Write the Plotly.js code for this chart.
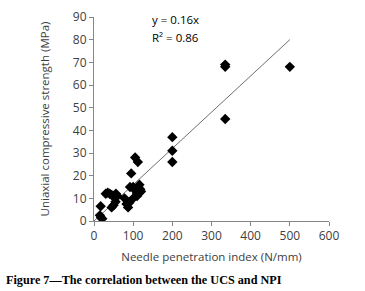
<!DOCTYPE html>
<html>
<head>
<meta charset="utf-8">
<script src="https://cdn.plot.ly/plotly-3.0.1.min.js"></script>
<style>
html,body{margin:0;padding:0;background:#fff;}
#chart{width:365px;height:291px;}
</style>
</head>
<body>
<div id="chart"></div>
<script>
// Needle penetration index (N/mm)
var npi = [15, 18, 21, 17,
           30, 35, 40, 45, 50, 56, 60,
           45, 50, 55,
           78, 83, 87, 90,
           92, 95, 100, 104, 108, 110, 113, 116, 118, 120, 105, 112, 100, 110,
           200, 200, 200, 335, 335, 335, 500];
// Uniaxial compressive strength (MPa)
var ucs = [2.5, 1.5, 1, 6.5,
           12, 12.5, 12, 11.5, 11, 12, 11,
           6, 7, 8.5,
           10, 7.5, 6, 8,
           15, 21, 15, 14, 13, 12, 15, 16, 14, 13, 28, 26, 10, 11,
           37, 31, 26, 68, 69, 45, 68];
var trendSlope = 0.16;
var trendX = [0, 500];
var trendY = trendX.map(function(v){return trendSlope * v;});
var xTicks = [0, 100, 200, 300, 400, 500, 600];
var yTicks = [0, 10, 20, 30, 40, 50, 60, 70, 80, 90];

var tickFont = {family: 'Open Sans, Liberation Sans, sans-serif', size: 12, color: '#404040'};
var titleFont = {family: 'Open Sans, Liberation Sans, sans-serif', size: 11.5, color: '#404040'};

var data = [
  {x: trendX, y: trendY, mode: 'lines', type: 'scatter',
   line: {color: '#6e6e6e', width: 1}, hoverinfo: 'skip'},
  {x: npi, y: ucs, mode: 'markers', type: 'scatter',
   marker: {symbol: 'diamond', size: 8, color: '#000000'}}
];

var layout = {
  width: 365, height: 291,
  margin: {l: 94, r: 36, t: 17, b: 70},
  showlegend: false,
  paper_bgcolor: '#ffffff', plot_bgcolor: '#ffffff',
  xaxis: {
    range: [0, 600], tickvals: xTicks, ticktext: xTicks.map(String),
    showgrid: false, zeroline: false, showline: true,
    linecolor: '#868686', linewidth: 1,
    ticks: 'outside', ticklen: 4, tickcolor: '#868686',
    tickfont: tickFont,
    title: {text: 'Needle penetration index (N/mm)', font: titleFont, standoff: 9}
  },
  yaxis: {
    range: [0, 90], tickvals: yTicks, ticktext: yTicks.map(String),
    showgrid: false, zeroline: false, showline: true,
    linecolor: '#868686', linewidth: 1,
    ticks: 'outside', ticklen: 4, tickcolor: '#868686',
    tickfont: tickFont,
    title: {text: 'Uniaxial compressive strength (MPa)', font: titleFont, standoff: 20}
  },
  annotations: [
    {xref: 'paper', yref: 'paper', x: (150-94)/235, y: 1 + (17-20)/204, xanchor: 'left', yanchor: 'middle',
     text: 'y = 0.16x', showarrow: false, font: {family: 'Open Sans, Liberation Sans, sans-serif', size: 11.5, color: '#000'}},
    {xref: 'paper', yref: 'paper', x: (150-94)/235, y: 1 + (17-38)/204, xanchor: 'left', yanchor: 'middle',
     text: 'R² = 0.86', showarrow: false, font: {family: 'Open Sans, Liberation Sans, sans-serif', size: 11.5, color: '#000'}},
    {xref: 'paper', yref: 'paper', x: -90/235, y: -(280-221)/204, xanchor: 'left', yanchor: 'middle',
     text: '<b>Figure 7—The correlation between the UCS and NPI</b>', showarrow: false,
     font: {family: 'Liberation Serif, DejaVu Serif, serif', size: 12.2, color: '#000'}}
  ]
};

Plotly.newPlot('chart', data, layout, {displayModeBar: false, staticPlot: true});
</script>
</body>
</html>
